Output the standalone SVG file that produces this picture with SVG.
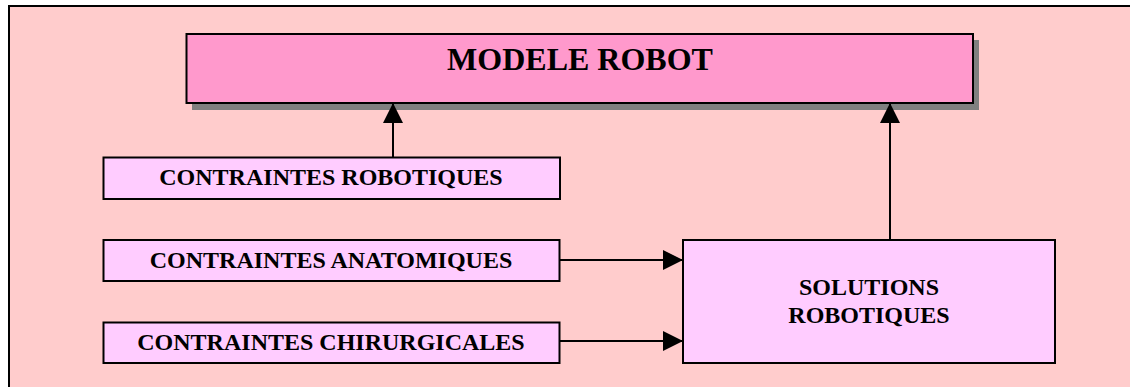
<svg xmlns="http://www.w3.org/2000/svg" width="1130" height="387" viewBox="0 0 1130 387">
<style>
.box{fill:#FFCCFF;stroke:#000;stroke-width:2}
.lbl{font-family:"Liberation Serif","Times New Roman",serif;font-weight:bold;font-size:24px;fill:#000;text-anchor:middle}
.con{stroke:#000;stroke-width:2;fill:none;marker-end:url(#ah)}
</style>
<defs>
<marker id="ah" markerUnits="userSpaceOnUse" markerWidth="20" markerHeight="20" refX="20" refY="10" orient="auto" viewBox="0 0 20 20">
<path d="M0,0 L20,10 L0,20 Z" fill="#000"/>
</marker>
</defs>
<rect x="9" y="6" width="1140" height="400" fill="#FFCCCC" stroke="#000" stroke-width="2"/>
<g id="modele">
<rect x="192" y="40" width="787" height="70" fill="#808080"/>
<rect x="186.5" y="34" width="786.5" height="69" fill="#FF99CC" stroke="#000" stroke-width="2"/>
<text class="lbl" x="580" y="70" style="font-size:32px">MODELE ROBOT</text>
</g>
<g id="robotiques">
<rect class="box" x="103.5" y="157.5" width="456.5" height="41.5"/>
<text class="lbl" x="331" y="185">CONTRAINTES ROBOTIQUES</text>
</g>
<g id="anatomiques">
<rect class="box" x="103.5" y="240" width="456" height="41"/>
<text class="lbl" x="331" y="268">CONTRAINTES ANATOMIQUES</text>
</g>
<g id="chirurgicales">
<rect class="box" x="103.5" y="322.5" width="456" height="40.5"/>
<text class="lbl" x="331" y="350">CONTRAINTES CHIRURGICALES</text>
</g>
<g id="solutions">
<rect class="box" x="683" y="240" width="372" height="123"/>
<text class="lbl" x="869" y="295">SOLUTIONS</text>
<text class="lbl" x="869" y="323">ROBOTIQUES</text>
</g>
<g id="connectors">
<line class="con" x1="393" y1="157.5" x2="393" y2="103"/>
<line class="con" x1="890" y1="240" x2="890" y2="103"/>
<line class="con" x1="559.5" y1="260" x2="683" y2="260"/>
<line class="con" x1="559.5" y1="341" x2="683" y2="341"/>
</g>
</svg>
